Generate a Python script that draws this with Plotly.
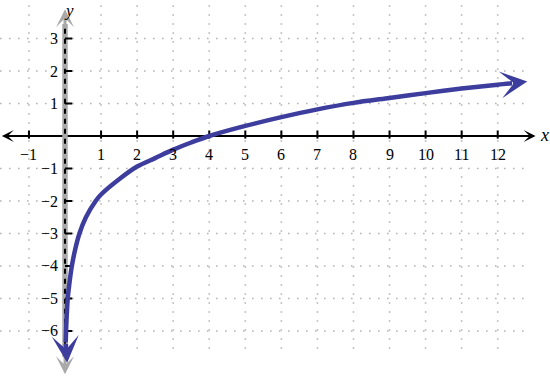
import plotly.graph_objects as go

# ---- data ----
curve_x = [0.02, 0.04, 0.075, 0.12, 0.19, 0.28, 0.40, 0.58, 0.85, 1.0, 1.5, 2.0, 2.5, 3.0, 3.5,
           4.0, 5.0, 6.0, 7.0, 8.0, 9.0, 10.0, 11.0, 12.0, 12.4]
curve_y = [-6.35, -5.7, -5.0, -4.55, -4.0, -3.5, -3.0, -2.5, -2.0, -1.8, -1.33, -0.94, -0.68, -0.42, -0.2,
           0.0, 0.31, 0.58, 0.82, 1.02, 1.17, 1.32, 1.46, 1.58, 1.62]
curve_start_tip = (0.06, -6.98)
curve_end_tip = (12.82, 1.68)

x_ticks = [-1, 1, 2, 3, 4, 5, 6, 7, 8, 9, 10, 11, 12]
x_tick_labels = ["−1", "1", "2", "3", "4", "5", "6", "7", "8", "9", "10", "11", "12"]
y_ticks = [3, 2, 1, -1, -2, -3, -4, -5, -6]
y_tick_labels = ["3", "2", "1", "−1", "−2", "−3", "−4", "−5", "−6"]

X_RANGE = [-1.803, 13.45]
Y_RANGE = [-7.385, 4.185]

BLUE = "#3d3d9e"
GRAY = "#a9a9a9"
GRID = "#b4b4b4"
FONT = "Liberation Serif"

fig = go.Figure()

shapes = []
# grid
for xv in x_ticks:
    shapes.append(dict(type="line", xref="x", yref="y", x0=xv, x1=xv, y0=-6.55, y1=Y_RANGE[1],
                       line=dict(color=GRID, width=1.6, dash="1.6px,7.4px"), layer="below"))
for yv in y_ticks:
    shapes.append(dict(type="line", xref="x", yref="y", x0=X_RANGE[0], x1=12.76, y0=yv, y1=yv,
                       line=dict(color=GRID, width=1.6, dash="1.6px,7.4px"), layer="below"))
# x axis line
shapes.append(dict(type="line", xref="x", yref="y", x0=-1.6, x1=13.0, y0=0, y1=0,
                   line=dict(color="black", width=2), layer="below"))
# y axis (gray with black dashes)
shapes.append(dict(type="line", xref="x", yref="y", x0=0, x1=0, y0=-6.8, y1=3.45,
                   line=dict(color=GRAY, width=5.5), layer="below"))
shapes.append(dict(type="line", xref="x", yref="y", x0=0, x1=0, y0=-6.7, y1=3.5,
                   line=dict(color="black", width=2, dash="5px,5px"), layer="below"))
# ticks
for xv in x_ticks:
    shapes.append(dict(type="line", xref="x", yref="y", x0=xv, x1=xv, y0=-0.08, y1=0.17,
                       line=dict(color="black", width=2), layer="below"))
for yv in y_ticks:
    shapes.append(dict(type="line", xref="x", yref="y", x0=0, x1=0.2, y0=yv, y1=yv,
                       line=dict(color="black", width=2), layer="below"))

fig.add_trace(go.Scatter(x=curve_x, y=curve_y, mode="lines",
                         line=dict(color=BLUE, width=4.5, shape="spline", smoothing=0.8),
                         hoverinfo="skip", showlegend=False))

ann = []
def arrow(tip, base, color, width, size, head):
    ann.append(dict(x=tip[0], y=tip[1], ax=base[0], ay=base[1], xref="x", yref="y",
                    axref="x", ayref="y", text="", showarrow=True, arrowhead=head,
                    arrowwidth=width, arrowsize=size, arrowcolor=color, standoff=0))

# axis arrows
arrow((13.05, 0), (12.5, 0), "black", 2, 1.0, 3)
arrow((-1.75, 0), (-1.3, 0), "black", 2, 1.0, 3)
arrow((0, 3.9), (0, 3.3), GRAY, 3, 1.0, 3)
arrow((0, -7.33), (0, -6.7), GRAY, 3, 1.0, 3)
# curve arrows
arrow(curve_end_tip, (curve_x[-1], curve_y[-1]), BLUE, 4.5, 1.0, 3)
arrow(curve_start_tip, (curve_x[0], curve_y[0]), BLUE, 4.5, 1.0, 3)

for xv, lab in zip(x_ticks, x_tick_labels):
    ann.append(dict(x=xv, y=-0.56, xref="x", yref="y", text=lab, showarrow=False,
                    xanchor="center", yanchor="middle", borderpad=0,
                    font=dict(family=FONT, size=16, color="black")))
for yv, lab in zip(y_ticks, y_tick_labels):
    ann.append(dict(x=-0.17, y=yv, xref="x", yref="y", text=lab, showarrow=False,
                    xanchor="right", yanchor="middle", borderpad=0,
                    font=dict(family=FONT, size=16, color="black")))

ann.append(dict(x=0.12, y=3.86, xref="x", yref="y", text="<i>y</i>", showarrow=False,
                xanchor="center", yanchor="middle", font=dict(family=FONT, size=17, color="black")))
ann.append(dict(x=13.3, y=0.02, xref="x", yref="y", text="<i>x</i>", showarrow=False,
                xanchor="center", yanchor="middle", font=dict(family=FONT, size=18, color="black")))

fig.update_layout(
    width=550, height=376, margin=dict(l=0, r=0, t=0, b=0),
    paper_bgcolor="white", plot_bgcolor="white",
    xaxis=dict(range=X_RANGE, visible=False, fixedrange=True),
    yaxis=dict(range=Y_RANGE, visible=False, fixedrange=True),
    shapes=shapes, annotations=ann, showlegend=False,
)

fig.write_html("out.html")
